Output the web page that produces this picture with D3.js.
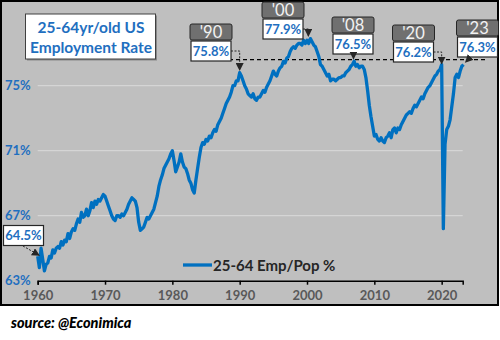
<!DOCTYPE html>
<html><head><meta charset="utf-8">
<script src="https://cdn.jsdelivr.net/npm/d3@7"></script>
<style>
html,body{margin:0;padding:0;background:#fff;}
svg{display:block;}
</style></head>
<body>
<script>
// ---- DATA ----
const startYear = 1960;          // first observation (quarterly)
const values = [
 64.5,63.8,65.0,64.3, 63.6,64.0,64.1,64.5, 64.4,64.9,64.7,65.0, 65.1,65.0,65.4,65.2,
 65.5,65.4,65.9,65.6, 66.0,66.2,66.1,66.5, 66.8,66.6,67.2,66.9, 67.0,67.4,67.0,67.3,
 67.8,67.5,67.9,67.7, 68.0,67.9,68.1,68.3, 68.2,67.9,67.6,67.3, 67.0,66.8,66.7,67.0,
 67.0,66.9,67.1,67.0, 67.2,67.4,67.7,67.9, 68.1,68.0,67.9,67.5, 66.6,66.1,66.2,66.3,
 66.6,66.9,66.8,67.0, 67.2,67.4,67.8,68.2, 68.8,69.2,69.5,69.9, 70.1,70.3,70.5,70.8,
 71.0,70.4,69.7,70.0, 70.3,70.8,70.3,70.0, 69.9,69.6,69.2,69.0, 68.6,68.4,69.2,69.9,
 70.6,71.2,71.5,71.4, 71.7,71.6,71.9,71.8, 72.1,72.3,72.2,72.6, 72.8,73.0,73.3,73.6,
 73.9,74.1,74.3,74.6, 75.0,75.0,75.3,75.3, 75.8,75.6,75.3,75.0, 74.8,74.5,74.4,74.3,
 74.5,74.2,74.1,74.3, 74.3,74.5,74.7,74.6, 74.9,75.1,75.3,75.6, 75.9,75.7,75.6,75.9,
 76.1,76.2,76.5,76.4, 76.7,76.8,77.1,77.3, 77.4,77.3,77.5,77.6, 77.6,77.5,77.8,77.6,
 77.8,77.6,77.9,77.7, 77.5,77.4,77.1,76.8, 76.3,76.2,76.0,75.8, 75.6,75.7,75.3,75.4,
 75.4,75.3,75.4,75.5, 75.5,75.6,75.6,75.8, 75.9,76.0,76.2,76.3, 76.5,76.2,76.3,76.1,
 76.2,76.2,76.0,75.5, 74.7,73.8,73.1,72.5, 71.9,72.0,71.7,71.6, 71.8,71.6,71.5,71.8,
 71.9,72.1,71.8,72.3, 72.4,72.1,72.4,72.3, 72.6,72.8,73.0,73.2, 73.3,73.4,73.3,73.6,
 73.8,73.7,73.9,74.1, 74.3,74.2,74.5,74.7, 74.9,75.0,75.2,75.4, 75.6,75.7,75.9,76.0,
 76.3,66.2,71.4,72.3, 72.5,72.9,73.7,74.5, 75.5,75.7,75.5,75.9, 76.2,76.3
];
const yTicks = [63, 67, 71, 75];
const xTicks = [1960, 1970, 1980, 1990, 2000, 2010, 2020];
const seriesName = "25-64 Emp/Pop %";
const titleLines = ["25-64yr/old US", "Employment Rate"];
const sourceText = "source: @Econimica";
const annLabels = ["'90", "'00", "'08", "'20", "'23"];
const annValues = [75.8, 77.9, 76.5, 76.2, 76.3];
const annYears  = [1990, 2000.2, 2006.9, 2020.0, 2023.1];
const startLabel = 64.5;
const refLevel = 76.6;

// ---- LAYOUT ----
const W = 500, H = 340;
const blue = "#1F6FC0";
const svg = d3.select("body").append("svg").attr("width", W).attr("height", H);
svg.append("rect").attr("x",0).attr("y",0).attr("width",W).attr("height",H).attr("fill","#fff");
svg.append("rect").attr("x",1).attr("y",1).attr("width",497).attr("height",304)
  .attr("fill","#BFBFBF").attr("stroke","#000").attr("stroke-width",2);

const x = d3.scaleLinear().domain([1960, 2023.125]).range([37.7, 462.7]);
const y = d3.scaleLinear().domain([63, 79]).range([280.7, 20.7]);
const data = values.map((v,i)=>({t: startYear + i/4, v}));

const font = "Lato, 'Open Sans', sans-serif";

// gridlines
svg.append("g").selectAll("line").data(yTicks.filter(d=>d>63)).join("line")
  .attr("x1", x.range()[0]).attr("x2", x.range()[1])
  .attr("y1", d=>y(d)).attr("y2", d=>y(d))
  .attr("stroke","#DADADA").attr("stroke-width",1);

// y labels
svg.append("g").selectAll("text").data(yTicks).join("text")
  .attr("x", 5).attr("y", d=>y(d)).attr("dy","0.35em")
  .attr("font-family", font).attr("font-size", 13).attr("font-weight","bold")
  .attr("fill", blue).text(d=>d+"%");

// x axis
const xAxis = d3.axisBottom(x).tickValues(xTicks).tickFormat(d3.format("d")).tickSize(4).tickPadding(6);
const gx = svg.append("g").attr("transform",`translate(0,${y(63)})`).call(xAxis);
gx.select(".domain").attr("stroke","#000").attr("stroke-width",1.5);
gx.selectAll(".tick line").attr("stroke","#000").attr("stroke-width",1.5);
gx.selectAll(".tick text").attr("font-family", font).attr("font-size", 13)
  .attr("fill","#595959").attr("font-weight","bold");

// reference dashed line
svg.append("line").attr("x1",208).attr("x2",485).attr("y1",y(refLevel)).attr("y2",y(refLevel))
  .attr("stroke","#000").attr("stroke-width",1.3).attr("stroke-dasharray","4,3");

// series line
const line = d3.line().x(d=>x(d.t)).y(d=>y(d.v));
svg.append("path").datum(data).attr("d", line).attr("fill","none")
  .attr("stroke","#0070C0").attr("stroke-width",3.3).attr("stroke-linejoin","round");

// legend
svg.append("line").attr("x1",183).attr("x2",212).attr("y1",265).attr("y2",265)
  .attr("stroke","#0070C0").attr("stroke-width",3.3);
svg.append("text").attr("x",213).attr("y",270.5).attr("font-family",font).attr("font-size",15)
  .attr("font-weight","bold").attr("fill","#262626").text(seriesName);

// title box
svg.append("rect").attr("x",27).attr("y",15.5).attr("width",130).attr("height",45)
  .attr("fill","#8a8a8a");
svg.append("rect").attr("x",25.5).attr("y",14).attr("width",130).attr("height",45)
  .attr("fill","#fff").attr("stroke","#404040").attr("stroke-width",1);
svg.append("g").selectAll("text").data(titleLines).join("text")
  .attr("x",91).attr("y",(d,i)=>33+i*20).attr("text-anchor","middle")
  .attr("font-family",font).attr("font-size",15.5).attr("font-weight","bold")
  .attr("fill",blue).text(d=>d);

// arrowhead marker
const defs = svg.append("defs");
defs.append("marker").attr("id","ah").attr("viewBox","0 0 10 10").attr("refX",9).attr("refY",5)
  .attr("markerWidth",8).attr("markerHeight",8).attr("orient","auto-start-reverse")
  .attr("markerUnits","userSpaceOnUse")
  .append("path").attr("d","M0,0L10,5L0,10z").attr("fill","#262626");

// annotation boxes (layout)
const annBox = [
  {cx:211, top:24, route:"right"},
  {cx:283, top:2,  route:"right"},
  {cx:353, top:17, route:"down"},
  {cx:413.5, top:25, route:"right"},
  {cx:477.5, top:20, route:"diag"}
];
const hdrW = 42, hdrH = 16, valW = 40, valH = 20;
annLabels.forEach((lab,i)=>{
  const b = annBox[i];
  const g = svg.append("g");
  g.append("rect").attr("x",b.cx-hdrW/2).attr("y",b.top).attr("width",hdrW).attr("height",hdrH)
    .attr("rx",2).attr("fill","#707070").attr("stroke","#262626").attr("stroke-width",1);
  g.append("text").attr("x",b.cx).attr("y",b.top+hdrH-2).attr("text-anchor","middle")
    .attr("font-family",font).attr("font-size",16.5).attr("fill","#F2F2F2").text(lab);
  const vy = b.top+hdrH+1;
  g.append("rect").attr("x",b.cx-valW/2).attr("y",vy).attr("width",valW).attr("height",valH)
    .attr("fill","#fff").attr("stroke","#262626").attr("stroke-width",1.2);
  g.append("text").attr("x",b.cx).attr("y",vy+valH/2).attr("dy","0.36em").attr("text-anchor","middle")
    .attr("font-family",font).attr("font-size",13).attr("font-weight","bold")
    .attr("fill",blue).text(annValues[i].toFixed(1)+"%");
  const tx = x(annYears[i]), ty = y(annValues[i]) - 2.5;
  let pts;
  if (b.route==="right") {
    const sx = b.cx+valW/2, sy = vy+valH/2;
    pts = [[sx,sy],[tx,sy],[tx,ty]];
  } else if (b.route==="down") {
    pts = [[tx, vy+valH],[tx,ty]];
  } else {
    pts = [[b.cx-7, vy+valH],[tx+3, ty]];
  }
  g.append("path").attr("d", d3.line()(pts)).attr("fill","none")
    .attr("stroke","#262626").attr("stroke-width",1).attr("stroke-dasharray","2,1.5")
    .attr("marker-end","url(#ah)");
});

// start label
svg.append("rect").attr("x",3.5).attr("y",225.5).attr("width",40).attr("height",20)
  .attr("fill","#fff").attr("stroke","#262626").attr("stroke-width",1.2);
svg.append("text").attr("x",23.5).attr("y",235.5).attr("dy","0.36em").attr("text-anchor","middle")
  .attr("font-family",font).attr("font-size",13).attr("font-weight","bold")
  .attr("fill",blue).text(startLabel.toFixed(1)+"%");
svg.append("path").attr("d", d3.line()([[23,246],[x(startYear)+1.5, y(startLabel)-1]]))
  .attr("fill","none").attr("stroke","#262626").attr("stroke-width",1).attr("stroke-dasharray","2,1.5")
  .attr("marker-end","url(#ah)");

// source
svg.append("text").attr("x",11).attr("y",328).attr("font-family",font).attr("font-size",14.5)
  .attr("font-weight","900").attr("font-style","italic").attr("fill","#000").text(sourceText);
</script>
</body></html>
